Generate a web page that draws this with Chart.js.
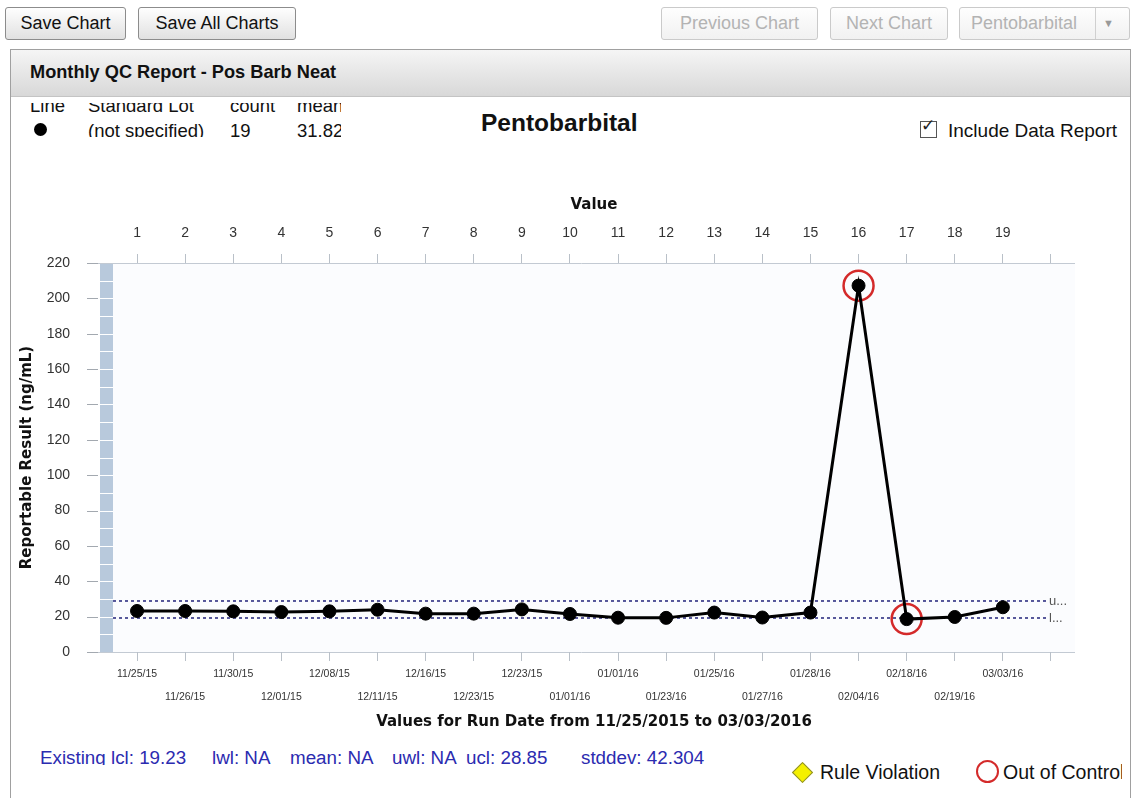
<!DOCTYPE html>
<html>
<head>
<meta charset="utf-8">
<script src="https://cdn.jsdelivr.net/npm/chart.js@4.4.1/dist/chart.umd.min.js"></script>
<style>
html,body{margin:0;padding:0;background:#fff;width:1132px;height:798px;overflow:hidden;font-family:"Liberation Sans",Arial,sans-serif;}
.btn{position:absolute;top:7px;height:33px;box-sizing:border-box;border:1px solid #8c8c8c;border-radius:3px;background:linear-gradient(#fefefe,#e1e1e1);font-size:18px;line-height:31px;text-align:center;color:#111;}
.btn.dis{color:#b3b3b3;border-color:#cacaca;background:linear-gradient(#fefefe,#f1f1f1);}
.panel{position:absolute;left:10px;top:49px;width:1121px;height:800px;border:1px solid #a0a0a0;box-sizing:border-box;background:#fff;}
.phead{position:absolute;left:0;top:0;right:0;height:46px;background:linear-gradient(#f5f5f5,#d8d8d8);border-bottom:1px solid #c4c4c4;}
.phead span{position:absolute;left:19px;top:12px;font-size:18.2px;font-weight:bold;color:#111;}
.abs{position:absolute;white-space:nowrap;}
#tbl{position:absolute;left:28px;top:103px;width:313px;height:34px;overflow:hidden;}
#tbl div{position:absolute;font-size:18.5px;color:#111;white-space:nowrap;}
#stats{position:absolute;left:0;top:746px;width:760px;height:19px;overflow:hidden;}
#stats span{position:absolute;top:1px;font-size:18.8px;color:#2b2bb0;white-space:nowrap;}
#leg{position:absolute;left:780px;top:755px;width:342px;height:36px;overflow:hidden;}
canvas{position:absolute;left:0;top:150px;z-index:5;}
</style>
</head>
<body>
<div class="btn" style="left:5px;width:121px;">Save Chart</div>
<div class="btn" style="left:138px;width:158px;">Save All Charts</div>
<div class="btn dis" style="left:661px;width:157px;">Previous Chart</div>
<div class="btn dis" style="left:830px;width:118px;">Next Chart</div>
<div class="btn dis" style="left:959px;width:171px;text-align:left;padding-left:11px;">Pentobarbital<span style="position:absolute;left:135px;top:0;width:1px;height:31px;background:#d0d0d0;"></span><span style="position:absolute;left:143px;top:0;font-size:11px;color:#999;">&#9660;</span></div>

<div class="panel"><div class="phead"><span>Monthly QC Report - Pos Barb Neat</span></div></div>

<div id="tbl">
  <div style="left:2px;top:-8px;">Line</div>
  <div style="left:60px;top:-8px;">Standard Lot</div>
  <div style="left:202px;top:-8px;">count</div>
  <div style="left:269px;top:-8px;">mean</div>
  <div style="left:6px;top:20px;width:13px;height:13px;border-radius:50%;background:#000;"></div>
  <div style="left:60px;top:17px;">(not specified)</div>
  <div style="left:202px;top:17px;">19</div>
  <div style="left:269px;top:17px;">31.82</div>
</div>

<div class="abs" style="left:481px;top:109px;font-size:24.5px;font-weight:bold;color:#111;">Pentobarbital</div>
<div class="abs" style="left:920px;top:121px;width:15px;height:15px;border:1px solid #555;background:#fff;"></div>
<div class="abs" style="left:921px;top:115px;font-family:'DejaVu Sans';font-size:17px;color:#222;">&#10003;</div>
<div class="abs" style="left:948px;top:120px;font-size:19px;color:#111;">Include Data Report</div>

<canvas id="c" width="1132" height="590"></canvas>

<div id="stats">
  <span style="left:40px;">Existing lcl: 19.23</span>
  <span style="left:212px;">lwl: NA</span>
  <span style="left:290px;">mean: NA</span>
  <span style="left:392px;">uwl: NA</span>
  <span style="left:466px;">ucl: 28.85</span>
  <span style="left:581px;">stddev: 42.304</span>
</div>
<div id="leg">
  <div class="abs" style="left:15px;top:10px;width:13px;height:13px;background:#f4f000;border:1px solid #8a8a30;transform:rotate(45deg);"></div>
  <div class="abs" style="left:40px;top:6px;font-size:19.5px;color:#111;">Rule Violation</div>
  <div class="abs" style="left:196px;top:5px;width:19px;height:19px;border:2.5px solid #d42a2a;border-radius:50%;"></div>
  <div class="abs" style="left:223px;top:6px;font-size:19.5px;color:#111;">Out of Control</div>
</div>

<script>
// ---- data ----
const runNumbers = [1,2,3,4,5,6,7,8,9,10,11,12,13,14,15,16,17,18,19];
const runDates = ["11/25/15","11/26/15","11/30/15","12/01/15","12/08/15","12/11/15","12/16/15","12/23/15","12/23/15","01/01/16","01/01/16","01/23/16","01/25/16","01/27/16","01/28/16","02/04/16","02/18/16","02/19/16","03/03/16"];
const results = [23.2,23.2,23.0,22.6,23.0,23.9,21.7,21.7,24.1,21.5,19.4,19.3,22.3,19.5,22.3,207.2,18.6,19.8,25.3];
const tickSlots = [1,2,3,4,5,6,7,8,9,10,11,12,13,14,15,16,17,18,19,20];
const outOfControlRuns = [16,17];
const lcl = 19.23;
const ucl = 28.85;
const limitSpan = [0.5, 19.9];
const yMin = 0, yMax = 220, yStep = 20;

const mainPts = runNumbers.map((r,i)=>({x:r,y:results[i]}));
const oocPts = outOfControlRuns.map(r=>({x:r,y:results[runNumbers.indexOf(r)]}));
const uclPts = limitSpan.map(x=>({x:x,y:ucl}));
const lclPts = limitSpan.map(x=>({x:x,y:lcl}));

const setTicks = s => { s.ticks = tickSlots.map(v=>({value:v})); };

const decor = {
  id:'decor',
  beforeDraw(chart){
    const {ctx, chartArea:a, scales:{y}} = chart;
    ctx.save();
    ctx.fillStyle = '#fbfcfe';
    ctx.fillRect(a.left, a.top, a.right-a.left, a.bottom-a.top);
    const yb = y.getPixelForValue(yMin), yt = y.getPixelForValue(yMax);
    ctx.fillStyle = '#b8c9dc';
    ctx.fillRect(a.left-13, yt, 13, yb-yt);
    ctx.strokeStyle = '#ffffff'; ctx.lineWidth = 1;
    for (let v=yMin+10; v<yMax; v+=10){
      const p = Math.round(y.getPixelForValue(v))+0.5;
      ctx.beginPath(); ctx.moveTo(a.left-13,p); ctx.lineTo(a.left,p); ctx.stroke();
    }
    ctx.strokeStyle = '#c3cad3';
    [a.top, a.bottom].forEach(p=>{
      const q = Math.round(p)+0.5;
      ctx.beginPath(); ctx.moveTo(a.left-25,q); ctx.lineTo(a.right,q); ctx.stroke();
    });
    ctx.strokeStyle = '#a3a9b0';
    y.ticks.forEach(t=>{
      const p = Math.round(y.getPixelForValue(t.value))+0.5;
      ctx.beginPath(); ctx.moveTo(a.left-26,p); ctx.lineTo(a.left-15,p); ctx.stroke();
    });
    ctx.restore();
  },
  afterDatasetsDraw(chart){
    const {ctx, chartArea:a, scales:{y}} = chart;
    ctx.save();
    ctx.font = '13px "Liberation Sans", Arial, sans-serif';
    ctx.fillStyle = '#555';
    ctx.textBaseline = 'middle';
    ctx.fillText('u...', a.right-26, y.getPixelForValue(ucl));
    ctx.fillText('l...', a.right-26, y.getPixelForValue(lcl));
    ctx.restore();
  }
};

Chart.defaults.font.family = '"Liberation Sans", Arial, sans-serif';
Chart.defaults.color = '#444';

new Chart(document.getElementById('c'), {
  type:'line',
  data:{
    datasets:[
      {data:mainPts, borderColor:'#000', borderWidth:3, pointRadius:6.5, pointBorderWidth:1, pointBackgroundColor:'#000', pointBorderColor:'#000', tension:0, xAxisID:'x', yAxisID:'y'},
      {data:oocPts, showLine:false, pointRadius:15, pointBorderWidth:2.5, pointBorderColor:'#d42a2a', pointBackgroundColor:'rgba(0,0,0,0)', xAxisID:'x', yAxisID:'y'},
      {data:uclPts, borderColor:'#23237a', borderWidth:1.5, borderDash:[3,3], pointRadius:0, xAxisID:'x', yAxisID:'y'},
      {data:lclPts, borderColor:'#23237a', borderWidth:1.5, borderDash:[3,3], pointRadius:0, xAxisID:'x', yAxisID:'y'}
    ]
  },
  options:{
    responsive:false, animation:false, devicePixelRatio:1,
    layout:{padding:{left:0,right:57,top:0,bottom:0}},
    plugins:{legend:{display:false}, tooltip:{enabled:false}},
    scales:{
      x:{
        type:'linear', position:'bottom', min:0.5, max:20.5,
        afterBuildTicks:setTicks,
        afterFit:s=>{s.height=88;},
        border:{display:false},
        grid:{display:true, drawOnChartArea:false, drawTicks:true, tickLength:9, color:'#b9c0c8'},
        ticks:{maxRotation:0, autoSkip:false, padding:2, color:'#333',
          font:{size:10.5, lineHeight:'23px'},
          callback:(v)=>{const l=runDates[v-1]; if(!l) return ''; return (v%2===1)?[l,'']:['',l];}},
        title:{display:true, text:'Values for Run Date from 11/25/2015 to 03/03/2016', color:'#111',
          font:{family:'"DejaVu Sans", Verdana, sans-serif', size:15, weight:'bold', lineHeight:1.2}, padding:{top:0,bottom:9}}
      },
      x2:{
        type:'linear', position:'top', min:0.5, max:20.5,
        afterBuildTicks:setTicks,
        afterFit:s=>{s.height=113;},
        border:{display:false},
        grid:{display:true, drawOnChartArea:false, drawTicks:true, tickLength:9, color:'#b9c0c8'},
        ticks:{maxRotation:0, autoSkip:false, padding:12, color:'#333', font:{size:14},
          callback:(v)=>runNumbers.includes(v)?String(v):''},
        title:{display:true, text:'Value', color:'#111',
          font:{family:'"DejaVu Sans", Verdana, sans-serif', size:15, weight:'bold', lineHeight:1.2}, padding:{top:46,bottom:0}}
      },
      y:{
        type:'linear', position:'left', min:yMin, max:yMax,
        afterFit:s=>{s.width=113;},
        border:{display:false},
        grid:{display:false, drawTicks:false},
        ticks:{stepSize:yStep, padding:43, color:'#333', font:{size:14}},
        title:{display:true, text:'Reportable Result (ng/mL)', color:'#111',
          font:{family:'"DejaVu Sans", Verdana, sans-serif', size:15, weight:'bold', lineHeight:1.2}, padding:{top:18,bottom:0}}
      }
    }
  },
  plugins:[decor]
});
</script>
</body>
</html>
